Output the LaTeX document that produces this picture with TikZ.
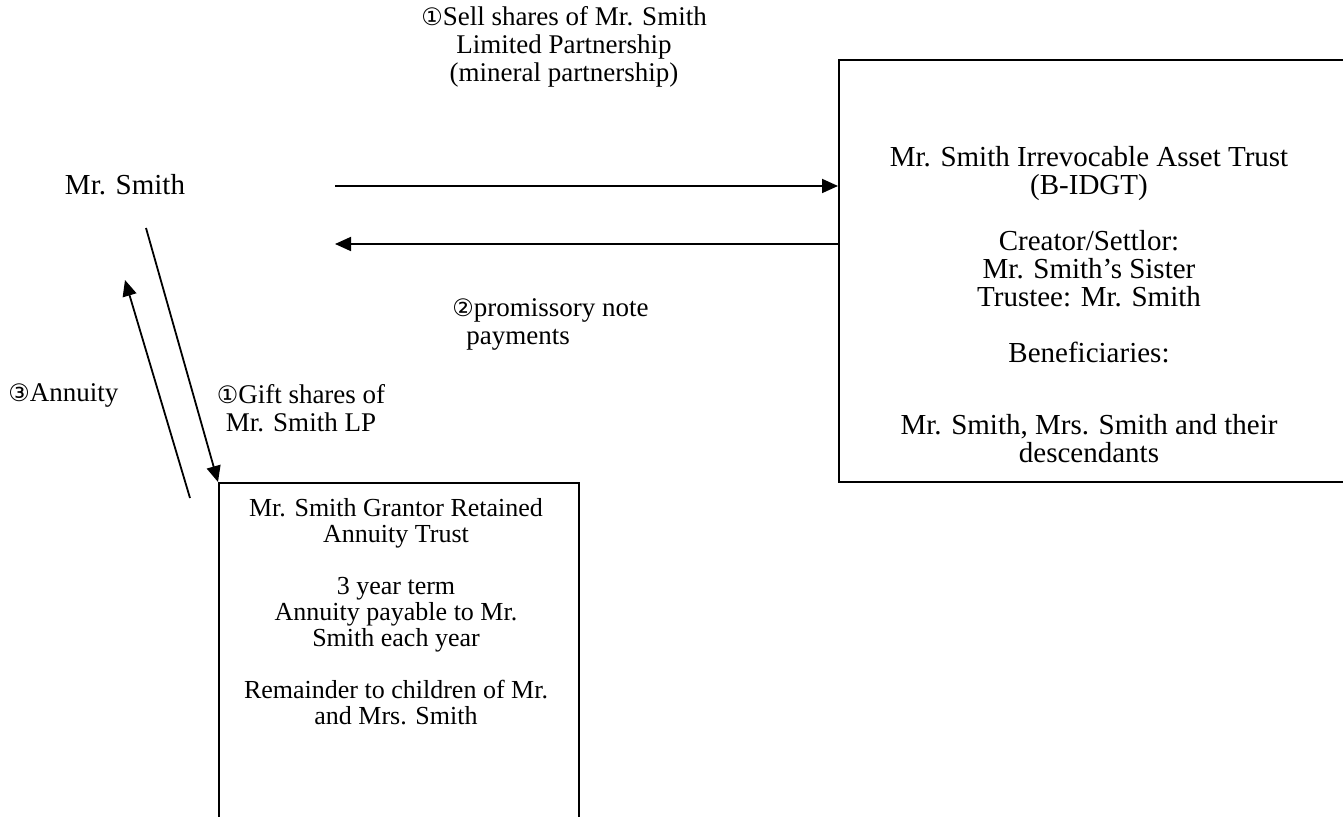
\documentclass[tikz,border=0pt]{standalone}
\usepackage{fontspec}
\setmainfont{Liberation Serif}
\newfontfamily\circfont{DejaVu Sans}
\usetikzlibrary{arrows.meta}
\newcommand{\cnum}[1]{{\circfont\fontsize{12}{12}\selectfont #1}}

\begin{document}
\begin{tikzpicture}
[x=0.5pt,y=-0.5pt]
\tikzset{box/.style={draw,line width=1pt,inner sep=0pt}}
\tikzset{txt/.style={align=center,inner sep=0pt,font=\fontsize{13.5}{14}\selectfont}}
\tikzset{big/.style={align=center,inner sep=0pt,font=\fontsize{14.5}{14}\selectfont}}
\tikzset{small/.style={align=center,inner sep=0pt,font=\fontsize{13}{13}\selectfont}}
\tikzset{flow/.style={line width=0.9pt,-{Triangle[length=8pt,width=7pt]}}}
\useasboundingbox (0,0) rectangle (1343,817);
\clip (0,0) rectangle (1343,817);

\node [big] (smith) at (125,185) {Mr. Smith};
\node [box,minimum width=522pt*0.5,minimum height=422pt*0.5,anchor=north west] (idgt) at (838,59) {};
\node [box,minimum width=360pt*0.5,minimum height=400pt*0.5,anchor=north west] (grat) at (218,482) {};

\node [big] (idgttxt) at (1089,305) {Mr. Smith Irrevocable Asset Trust\\(B-IDGT)\\[14pt]
Creator/Settlor:\\Mr. Smith’s Sister\\Trustee: Mr. Smith\\[14pt]
Beneficiaries:\\[22pt]
Mr. Smith, Mrs. Smith and their\\descendants};
\node [small] (grattxt) at (396,612) {Mr. Smith Grantor Retained\\Annuity Trust\\[13pt]
3 year term\\Annuity payable to Mr.\\Smith each year\\[13pt]
Remainder to children of Mr.\\and Mrs. Smith};

\node [txt] (selllbl) at (564,47) {\cnum{①}Sell shares of Mr. Smith\\Limited Partnership\\(mineral partnership)};
\node [txt,align=left,anchor=north west] (notelbl) at (452,298) {\cnum{②}promissory note\\\hspace*{7pt}payments};
\node [txt,anchor=west] (annlbl) at (8,395) {\cnum{③}Annuity};
\node [txt] (giftlbl) at (301,408) {\cnum{①}Gift shares of\\Mr. Smith LP};

\coordinate (sellstart) at (335,186);
\coordinate (noteend) at (335,244);
\coordinate (giftstart) at (146,228);
\coordinate (annstart) at (190,498);
\coordinate (annend) at (125,280);

\draw [flow] (sellstart) -- (sellstart -| idgt.west);
\draw [flow] (noteend -| idgt.west) -- (noteend);
\draw [flow] (giftstart) -- (grat.north west);
\draw [flow] (annstart) -- (annend);

\end{tikzpicture}
\end{document}
